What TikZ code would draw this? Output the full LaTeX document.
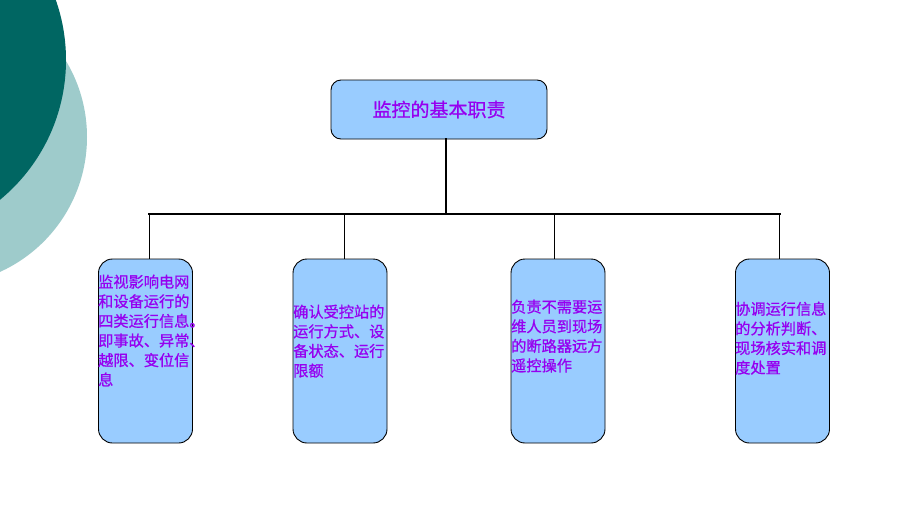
\documentclass[tikz,border=0pt]{standalone}
\usepackage{fontspec}
\newfontfamily\cjk{Noto Sans CJK SC}[FakeBold=0.8]
\definecolor{darkteal}{RGB}{0,102,98}
\definecolor{lightteal}{RGB}{158,203,203}
\definecolor{boxblue}{RGB}{153,204,255}
\definecolor{txtpurple}{RGB}{150,0,240}
\begin{document}
\begin{tikzpicture}[x=1pt,y=-1pt,
  boxstyle/.style={draw=black,fill=boxblue,rounded corners=14pt,line width=0.9pt,inner sep=0pt},
  topstyle/.style={draw=black,fill=boxblue,rounded corners=10pt,line width=0.9pt,inner sep=0pt,minimum width=216pt,minimum height=59pt,font=\cjk\fontsize{19}{22}\selectfont,text=txtpurple},
  leafstyle/.style={boxstyle,minimum width=94pt,minimum height=184pt},
  txtstyle/.style={inner sep=0pt,anchor=north west,align=left,text=txtpurple,font=\cjk\fontsize{15.2}{19.6}\selectfont},
  thick bar/.style={line width=2.6pt,line cap=rect},
  thin bar/.style={line width=0.9pt}]
\useasboundingbox (0,0) rectangle (920,517);
\fill[white] (0,0) rectangle (920,517);
\begin{scope}
\clip (0,0) rectangle (920,517);
\fill[lightteal] (-61,137) circle (148pt);
\fill[darkteal] (-115,60) circle (181pt);
\end{scope}
\node[topstyle] (top) at (439,109.5) {监控的基本职责};
\node[leafstyle] (b1) at (145.5,351) {};
\node[leafstyle] (b2) at (340,351) {};
\node[leafstyle] (b3) at (558,351) {};
\node[leafstyle] (b4) at (782.5,351) {};
\node[txtstyle] (t1) at (98,274.5) {监视影响电网\\和设备运行的\\四类运行信息。\\即事故、异常、\\越限、变位信\\息};
\node[txtstyle] (t2) at (293,304.5) {确认受控站的\\运行方式、设\\备状态、运行\\限额};
\node[txtstyle] (t3) at (511,299.5) {负责不需要运\\维人员到现场\\的断路器远方\\遥控操作};
\node[txtstyle] (t4) at (735,301.5) {协调运行信息\\的分析判断、\\现场核实和调\\度处置};
\coordinate (hub) at (446,214);
\coordinate (j1) at (149.5,214);
\coordinate (j2) at (344.5,214);
\coordinate (j3) at (554.5,214);
\coordinate (j4) at (779.5,214);
\draw[thick bar] (top.south -| hub) -- (hub);
\draw[thick bar] (j1) -- (j4);
\draw[thin bar] (j1) -- (j1 |- b1.north);
\draw[thin bar] (j2) -- (j2 |- b2.north);
\draw[thin bar] (j3) -- (j3 |- b3.north);
\draw[thin bar] (j4) -- (j4 |- b4.north);
\end{tikzpicture}
\end{document}
